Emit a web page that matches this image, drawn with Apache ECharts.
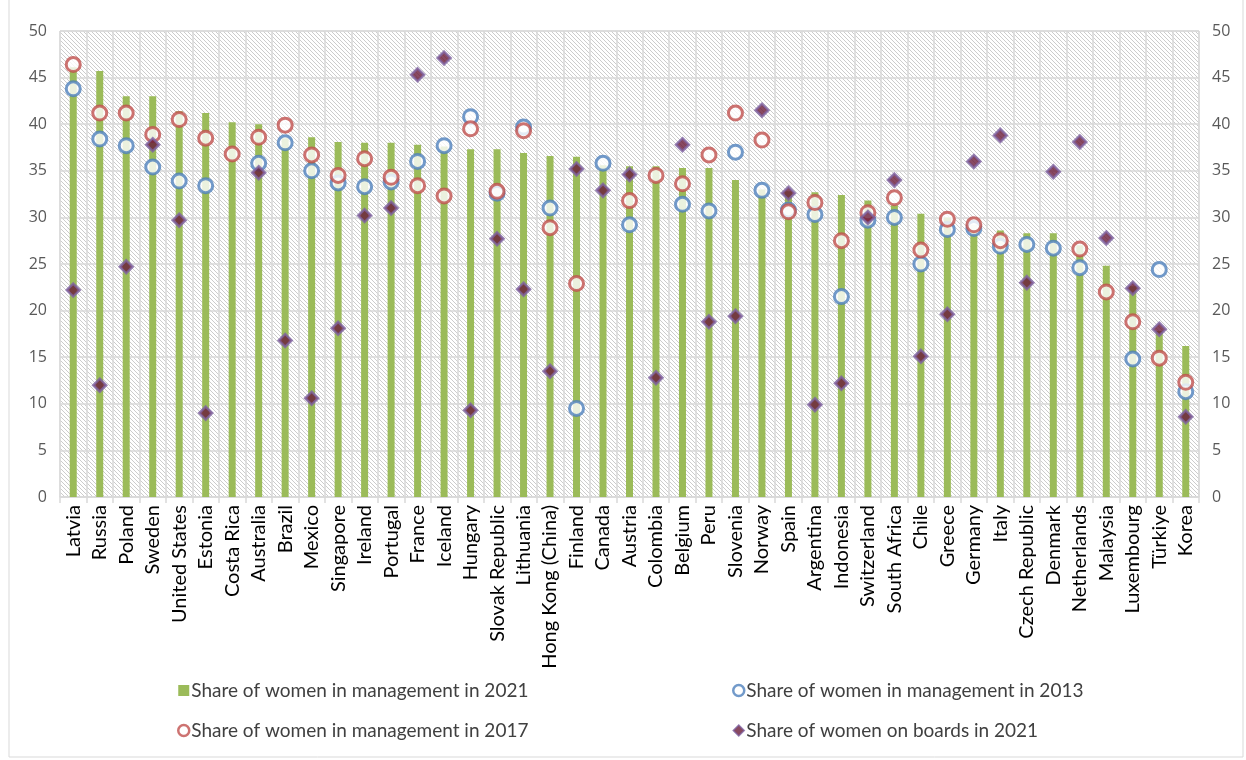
<!DOCTYPE html>
<html>
<head>
<meta charset="utf-8">
<style>
  html, body { margin: 0; padding: 0; background: #ffffff; }
  #chart { width: 1246px; height: 760px; }
</style>
<script src="https://cdn.jsdelivr.net/npm/echarts@6/dist/echarts.min.js"></script>
</head>
<body>
<div id="chart"></div>
<script>
// Countries, ordered by share of women in management in 2021
const categories = [
  'Latvia', 'Russia', 'Poland', 'Sweden', 'United States', 'Estonia', 'Costa Rica', 'Australia', 'Brazil', 'Mexico',
  'Singapore', 'Ireland', 'Portugal', 'France', 'Iceland', 'Hungary', 'Slovak Republic', 'Lithuania', 'Hong Kong (China)', 'Finland',
  'Canada', 'Austria', 'Colombia', 'Belgium', 'Peru', 'Slovenia', 'Norway', 'Spain', 'Argentina', 'Indonesia',
  'Switzerland', 'South Africa', 'Chile', 'Greece', 'Germany', 'Italy', 'Czech Republic', 'Denmark', 'Netherlands', 'Malaysia',
  'Luxembourg', 'Türkiye', 'Korea'
];

// Share of women in management, 2021 (%)
const mgmt2021 = [
  46.1, 45.7, 43.0, 43.0, 41.4, 41.2, 40.2, 40.0, 38.5, 38.6,
  38.1, 38.0, 38.0, 37.8, 37.6, 37.3, 37.3, 36.9, 36.6, 36.5,
  35.6, 35.5, 35.5, 35.3, 35.3, 34.0, 33.0, 32.8, 32.7, 32.4,
  31.8, 31.3, 30.4, 30.0, 29.2, 28.6, 28.3, 28.3, 27.0, 24.8,
  22.6, 17.8, 16.2
];

// Share of women in management, 2013 (%)
const mgmt2013 = [
  43.8, 38.4, 37.7, 35.4, 33.9, 33.4, null, 35.8, 38.0, 35.0,
  33.7, 33.3, 33.8, 36.0, 37.7, 40.8, 32.6, 39.7, 31.0, 9.5,
  35.8, 29.2, null, 31.4, 30.7, 37.0, 32.9, 30.8, 30.3, 21.5,
  29.7, 30.0, 25.0, 28.7, 28.8, 26.9, 27.1, 26.7, 24.6, null,
  14.8, 24.4, 11.3
];

// Share of women in management, 2017 (%)
const mgmt2017 = [
  46.4, 41.2, 41.2, 38.9, 40.5, 38.5, 36.8, 38.6, 39.9, 36.7,
  34.5, 36.3, 34.3, 33.4, 32.3, 39.5, 32.8, 39.3, 28.9, 22.9,
  null, 31.8, 34.5, 33.6, 36.7, 41.2, 38.3, 30.6, 31.6, 27.5,
  30.5, 32.1, 26.5, 29.8, 29.2, 27.5, null, null, 26.6, 22.0,
  18.8, 14.9, 12.3
];

// Share of women on boards, 2021 (%)
const boards2021 = [
  22.2, 12.0, 24.7, 37.8, 29.7, 9.0, null, 34.8, 16.8, 10.6,
  18.1, 30.2, 31.0, 45.3, 47.1, 9.3, 27.7, 22.3, 13.5, 35.2,
  32.9, 34.6, 12.8, 37.8, 18.8, 19.4, 41.5, 32.6, 9.9, 12.2,
  30.0, 34.0, 15.1, 19.6, 36.0, 38.8, 23.0, 34.9, 38.1, 27.8,
  22.4, 18.0, 8.6
];

const yTicks = { min: 0, max: 50, interval: 5 };

const seriesNames = [
  'Share of women in management in 2021',
  'Share of women in management in 2013',
  'Share of women in management in 2017',
  'Share of women on boards in 2021'
];

const GREEN = '#9bbb59';
const BLUE = '#4f81bd';
const RED = '#c0504d';
const PURPLE = '#8064a2';
const DIAMOND_FILL = '#6a1b3a';
const TEXT_FONT = 'Lato, Open Sans, sans-serif';

// Diagonal hatch used as the plot background
function hatchPattern() {
  const c = document.createElement('canvas');
  c.width = 4; c.height = 4;
  const g = c.getContext('2d');
  g.fillStyle = '#ffffff';
  g.fillRect(0, 0, 4, 4);
  g.strokeStyle = '#cccccc';
  g.lineWidth = 1;
  g.beginPath();
  g.moveTo(-1, -1); g.lineTo(5, 5);
  g.moveTo(-1, 3); g.lineTo(1, 5);
  g.moveTo(3, -1); g.lineTo(5, 1);
  g.stroke();
  return { image: c, repeat: 'repeat' };
}

const chart = echarts.init(document.getElementById('chart'), null, { renderer: 'canvas' });

const axisLabelY = { color: '#595959', fontSize: 16, fontFamily: 'Open Sans, sans-serif', margin: 13 };
const gridLine = { show: true, lineStyle: { color: '#d9d9d9', width: 1.5 } };
const legendText = { color: '#404040', fontSize: 19, fontFamily: TEXT_FONT, padding: [0, 0, 0, -3] };

chart.setOption({
  animation: false,
  backgroundColor: '#ffffff',
  graphic: [{
    type: 'rect',
    shape: { x: 9, y: -5, width: 1234, height: 762 },
    style: { fill: 'none', stroke: '#d9d9d9', lineWidth: 1 },
    silent: true,
    z: -10
  }],
  grid: {
    left: 60, right: 47, top: 31, bottom: 263,
    show: true,
    backgroundColor: hatchPattern(),
    borderColor: '#d9d9d9',
    borderWidth: 1
  },
  legend: [
    {
      left: 172, top: 676, orient: 'vertical', itemGap: 21,
      itemWidth: 11, itemHeight: 11,
      textStyle: legendText,
      data: [
        { name: seriesNames[0], icon: 'rect', itemStyle: { color: GREEN, borderWidth: 0 } },
        { name: seriesNames[2], icon: 'circle', itemStyle: { color: '#ffffff', borderColor: RED, borderWidth: 2.5 } }
      ]
    },
    {
      left: 727, top: 676, orient: 'vertical', itemGap: 21,
      itemWidth: 11, itemHeight: 11,
      textStyle: legendText,
      data: [
        { name: seriesNames[1], icon: 'circle', itemStyle: { color: '#ffffff', borderColor: BLUE, borderWidth: 2.5 } },
        { name: seriesNames[3], icon: 'diamond', itemStyle: { color: DIAMOND_FILL, borderColor: PURPLE, borderWidth: 1.5 } }
      ]
    }
  ],
  xAxis: {
    type: 'category',
    data: categories,
    boundaryGap: true,
    axisLine: { show: true, lineStyle: { color: '#d9d9d9', width: 1.5 } },
    axisTick: { show: true, length: 6, lineStyle: { color: '#d9d9d9', width: 1.5 } },
    splitLine: gridLine,
    axisLabel: {
      rotate: 90, interval: 0, color: '#000000', fontSize: 20,
      fontFamily: TEXT_FONT, margin: 8
    }
  },
  yAxis: [
    {
      type: 'value', min: yTicks.min, max: yTicks.max, interval: yTicks.interval, position: 'left',
      axisLine: { show: false }, axisTick: { show: false },
      splitLine: gridLine,
      axisLabel: axisLabelY
    },
    {
      type: 'value', min: yTicks.min, max: yTicks.max, interval: yTicks.interval, position: 'right',
      axisLine: { show: false }, axisTick: { show: false },
      splitLine: { show: false },
      axisLabel: axisLabelY
    }
  ],
  series: [
    {
      name: seriesNames[0], type: 'bar', data: mgmt2021, barWidth: 7,
      itemStyle: { color: GREEN }, z: 2
    },
    {
      name: seriesNames[1], type: 'scatter', data: mgmt2013,
      symbol: 'circle', symbolSize: 14,
      itemStyle: { color: '#ffffff', borderColor: BLUE, borderWidth: 3 }, z: 3
    },
    {
      name: seriesNames[2], type: 'scatter', data: mgmt2017,
      symbol: 'circle', symbolSize: 14,
      itemStyle: { color: '#ffffff', borderColor: RED, borderWidth: 3 }, z: 4
    },
    {
      name: seriesNames[3], type: 'scatter', data: boards2021,
      symbol: 'diamond', symbolSize: [13, 13],
      itemStyle: { color: DIAMOND_FILL, borderColor: PURPLE, borderWidth: 2.5 }, z: 5
    }
  ]
});
</script>
</body>
</html>
